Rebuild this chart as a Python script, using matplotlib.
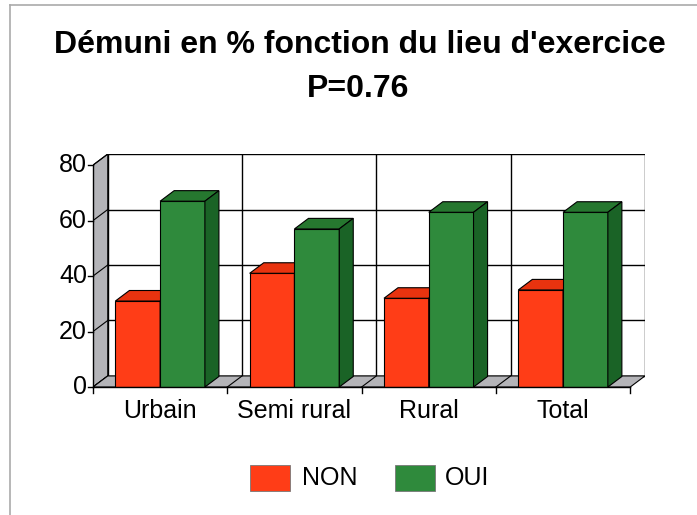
import numpy as np
import matplotlib.pyplot as plt
from matplotlib.patches import Polygon, Rectangle
from matplotlib.lines import Line2D

plt.rcParams['font.family'] = ['Liberation Sans', 'DejaVu Sans']

# Data
categories = ['Urbain', 'Semi rural', 'Rural', 'Total']
non_values = [31, 41, 32, 35]
oui_values = [67, 57, 63, 63]
series_names = ['NON', 'OUI']
yticks = [0, 20, 40, 60, 80]

# Colours
red_front, red_top, red_side = '#ff3d17', '#e8330f', '#c82a0c'
green_front, green_top, green_side = '#2f8a3c', '#26772f', '#1a6326'
wall_gray = '#b4b4b8'

# 3D depth offset in data units
ddx, ddy = 0.11, 4.0
ymax = 80

fig = plt.figure(figsize=(6.97, 5.15), dpi=100)
ax = fig.add_axes([0.1334, 0.2485, 0.792, 0.4524])
ax.set_xlim(0, len(categories) + ddx)
ax.set_ylim(0, ymax + ddy)
ax.axis('off')

n = len(categories)
# back wall
ax.add_patch(Rectangle((ddx, ddy), n, ymax, facecolor='white', edgecolor='black', lw=1, zorder=1))
for v in yticks[1:-1]:
    ax.plot([ddx, n + ddx], [v + ddy, v + ddy], color='black', lw=1, zorder=1)
for i in range(1, n):
    ax.plot([i + ddx, i + ddx], [ddy, ymax + ddy], color='black', lw=1, zorder=1)
# left side wall
ax.add_patch(Polygon([(0, 0), (ddx, ddy), (ddx, ymax + ddy), (0, ymax)],
                     facecolor=wall_gray, edgecolor='black', lw=0.8, zorder=1))
for v in yticks:
    ax.plot([0, ddx], [v, v + ddy], color='black', lw=0.8, zorder=1)
# floor
ax.add_patch(Polygon([(0, 0), (n, 0), (n + ddx, ddy), (ddx, ddy)],
                     facecolor=wall_gray, edgecolor='black', lw=0.8, zorder=1))
for i in range(1, n):
    ax.plot([i, i + ddx], [0, ddy], color='black', lw=0.8, zorder=1)

# bars
w = 1 / 3
bdx, bdy = ddx * 0.95, ddy * 0.95


def bar3d(x0, v, front, top, side, z):
    ax.add_patch(Rectangle((x0, 0), w, v, facecolor=front, edgecolor='black', lw=0.8, zorder=z))
    ax.add_patch(Polygon([(x0, v), (x0 + w, v), (x0 + w + bdx, v + bdy), (x0 + bdx, v + bdy)],
                         facecolor=top, edgecolor='black', lw=0.8, zorder=z))
    ax.add_patch(Polygon([(x0 + w, 0), (x0 + w + bdx, bdy), (x0 + w + bdx, v + bdy), (x0 + w, v)],
                         facecolor=side, edgecolor='black', lw=0.8, zorder=z))


for i in range(n):
    bar3d(i + 1 / 6, non_values[i], red_front, red_top, red_side, 3 + i * 2)
    bar3d(i + 1 / 2, oui_values[i], green_front, green_top, green_side, 4 + i * 2)

# axes lines and ticks
ax.plot([0, 0], [0, ymax], color='black', lw=1, zorder=20, clip_on=False)
ax.plot([0, n], [0, 0], color='black', lw=1, zorder=20, clip_on=False)
for v in yticks:
    ax.plot([-0.04, 0], [v, v], color='black', lw=1, clip_on=False, zorder=20)
    ax.text(-0.045, v, str(v), ha='right', va='center', fontsize=18)
for i in range(n + 1):
    ax.plot([i, i], [0, -2.2], color='black', lw=1, clip_on=False, zorder=20)
for i, c in enumerate(categories):
    ax.text(i + 0.5, -8.5, c, ha='center', va='center', fontsize=18)

# title
fig.text(360 / 697, 1 - 53 / 515, "Démuni en % fonction du lieu d'exercice", ha='center', va='baseline',
         fontsize=23, fontweight='bold')
fig.text(358 / 697, 1 - 97 / 515, "P=0.76", ha='center', va='baseline', fontsize=23, fontweight='bold')

# legend
leg_y = 1 - 478 / 515
fig.patches.append(Rectangle((250 / 697, leg_y - 13 / 515), 40 / 697, 26 / 515, transform=fig.transFigure,
                             facecolor=red_front, edgecolor='#777777', lw=0.6))
fig.text(302 / 697, leg_y, series_names[0], ha='left', va='center', fontsize=18)
fig.patches.append(Rectangle((395 / 697, leg_y - 13 / 515), 40 / 697, 26 / 515, transform=fig.transFigure,
                             facecolor=green_front, edgecolor='#777777', lw=0.6))
fig.text(445 / 697, leg_y, series_names[1], ha='left', va='center', fontsize=18)

# outer frame lines
fig.add_artist(Line2D([10 / 697, 10 / 697], [0, 1 - 5 / 515], transform=fig.transFigure, color='#aaaaaa', lw=1.2))
fig.add_artist(Line2D([10 / 697, 1], [1 - 5 / 515, 1 - 5 / 515], transform=fig.transFigure, color='#aaaaaa', lw=1.2))

fig.savefig('out.png', dpi=100)
